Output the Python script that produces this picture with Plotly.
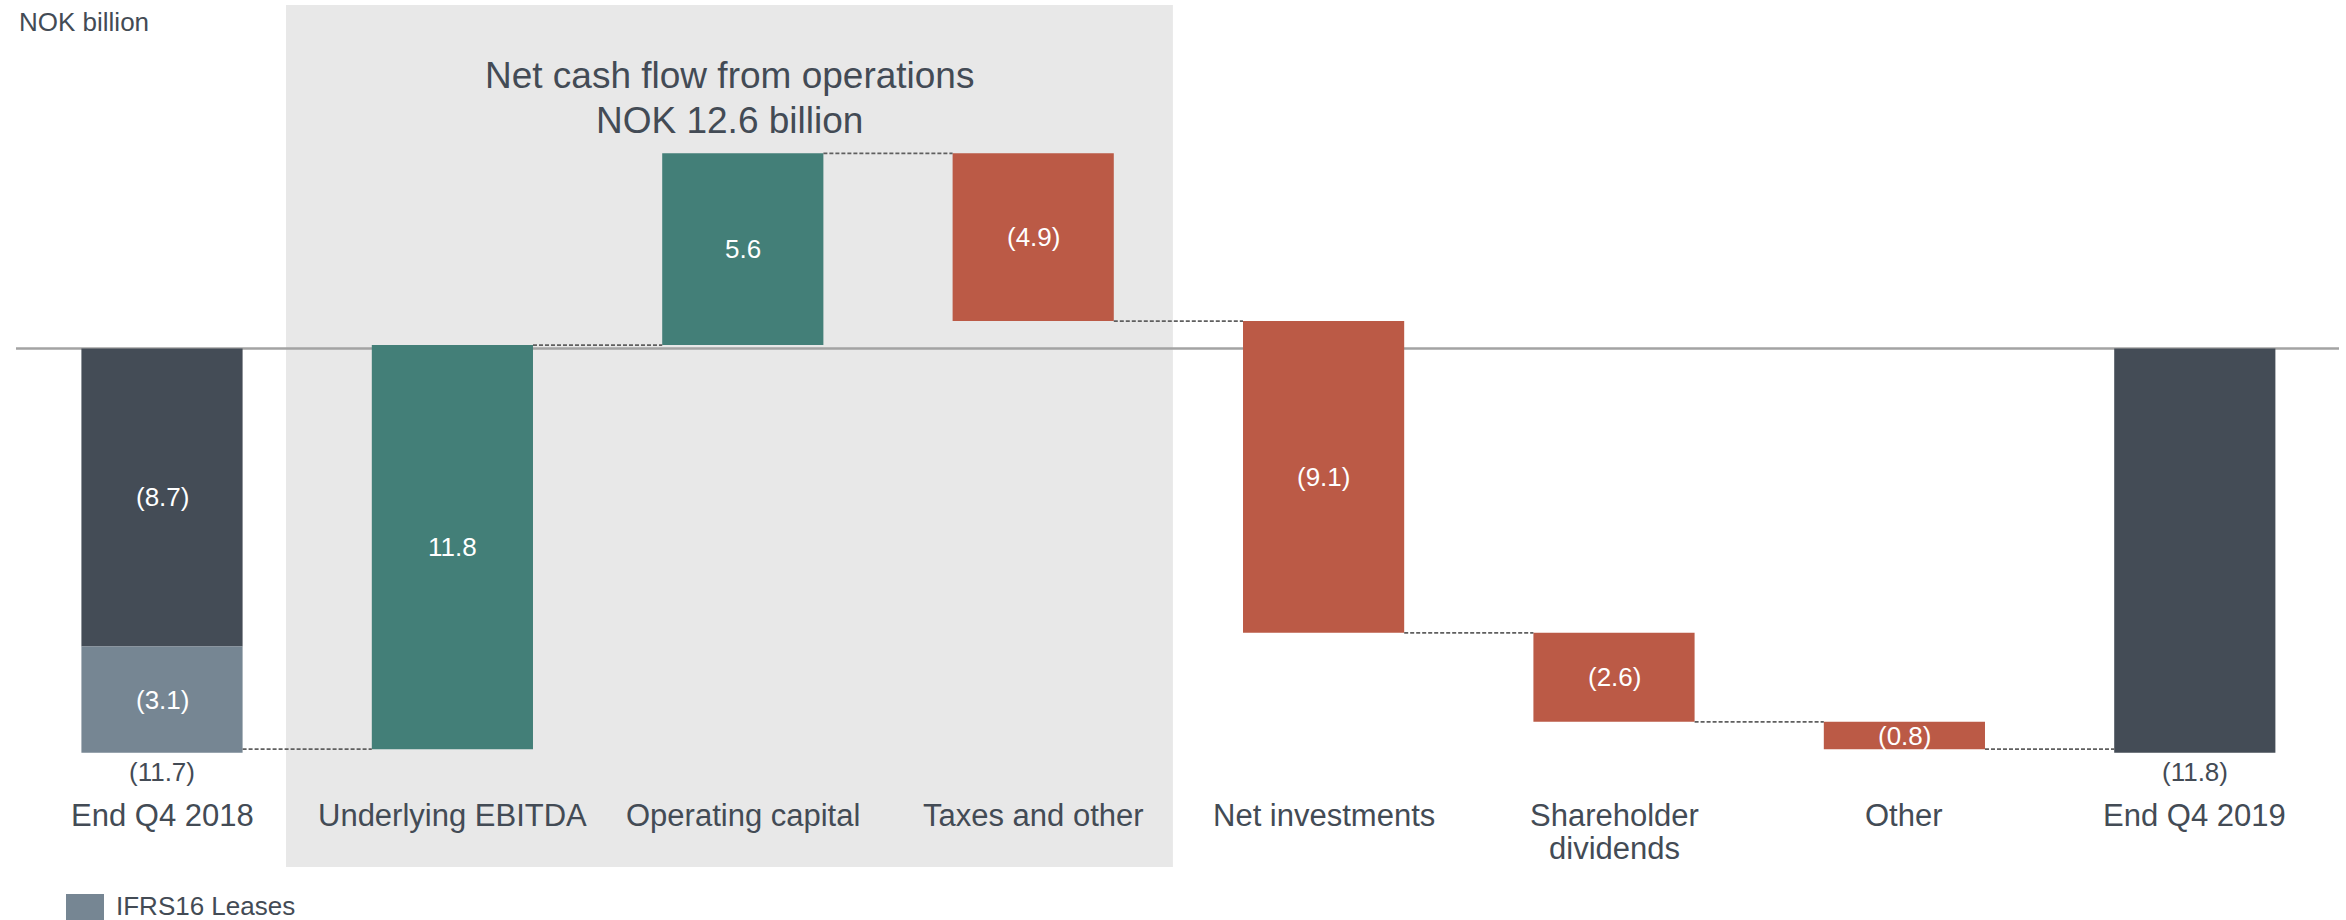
import plotly.graph_objects as go

# Cash flow bridge, NOK billion
categories = ["End Q4 2018", "Underlying EBITDA", "Operating capital", "Taxes and other",
              "Net investments", "Shareholder dividends", "Other", "End Q4 2019"]
category_lines = [["End Q4 2018"], ["Underlying EBITDA"], ["Operating capital"], ["Taxes and other"],
                  ["Net investments"], ["Shareholder", "dividends"], ["Other"], ["End Q4 2019"]]

start_total = -11.7          # net debt, end Q4 2018
start_ex_leases = -8.7       # of which before IFRS16
start_leases = -3.1          # IFRS16 leases
flow_values = [11.8, 5.6, -4.9, -9.1, -2.6, -0.8]
end_total = -11.8            # net debt, end Q4 2019

FONT = "Liberation Sans, Arial, sans-serif"
TEXT = "#434b55"
DARK = "#444c56"
LEASE = "#768693"
GREEN = "#437f78"
RED = "#bb5a46"
SHADE = "#e8e8e8"

W, H = 2346, 920
BAR_W = 0.555


def fmt(v):
    return f"({abs(v):.1f})" if v < 0 else f"{v:.1f}"


def py(px):
    return 1 - px / H


def pxx(px):
    return px / W


fig = go.Figure()

# opening balance split into leases / other
fig.add_trace(go.Bar(x=[0], y=[start_ex_leases], base=[0], width=BAR_W,
                     marker=dict(color=DARK, line=dict(width=0)), hoverinfo="skip"))
fig.add_trace(go.Bar(x=[0], y=[start_leases], base=[start_ex_leases], width=BAR_W,
                     marker=dict(color=LEASE, line=dict(width=0)), hoverinfo="skip"))

# floating flow bars
bases, levels = [], [start_total]
running = start_total
for v in flow_values:
    bases.append(running)
    running = round(running + v, 2)
    levels.append(running)
flow_x = list(range(1, 1 + len(flow_values)))
fig.add_trace(go.Bar(x=flow_x, y=flow_values, base=bases, width=BAR_W,
                     marker=dict(color=[GREEN if v > 0 else RED for v in flow_values],
                                 line=dict(width=0)),
                     hoverinfo="skip"))

# closing balance
fig.add_trace(go.Bar(x=[7], y=[end_total], base=[0], width=BAR_W,
                     marker=dict(color=DARK, line=dict(width=0)), hoverinfo="skip"))

shapes = []
# operations panel
shapes.append(dict(type="rect", xref="x", yref="paper", x0=0.427, x1=3.481,
                   y0=py(867), y1=py(5), fillcolor=SHADE, line=dict(width=0), layer="below"))
# zero line
shapes.append(dict(type="line", xref="paper", yref="y", x0=pxx(16), x1=pxx(2339), y0=0, y1=0,
                   line=dict(color="#a3a3a3", width=2.5), layer="below"))
# dashed connectors between consecutive bars
for i, lvl in enumerate(levels):
    shapes.append(dict(type="line", xref="x", yref="y",
                       x0=i + BAR_W / 2, x1=i + 1 - BAR_W / 2, y0=lvl, y1=lvl,
                       line=dict(color="#5f5f5f", width=1.8, dash="4px,2px")))
# legend swatch
shapes.append(dict(type="rect", xref="paper", yref="paper", x0=pxx(66), x1=pxx(104),
                   y0=py(930), y1=py(894), fillcolor=LEASE, line=dict(width=0)))

ann = []
# value labels inside the bars
inside = [(0, start_ex_leases / 2, start_ex_leases), (0, start_ex_leases + start_leases / 2, start_leases)]
for i, (b, v) in enumerate(zip(bases, flow_values), start=1):
    inside.append((i, b + v / 2, v))
for x, y, v in inside:
    ann.append(dict(x=x, y=y, xref="x", yref="y", text=fmt(v), showarrow=False,
                    font=dict(family=FONT, size=26, color="white")))
# totals under the balance bars
for x, v in [(0, start_total), (7, end_total)]:
    ann.append(dict(x=x, y=py(772), xref="x", yref="paper", text=fmt(v), showarrow=False,
                    yanchor="middle", font=dict(family=FONT, size=26, color=TEXT)))
# category labels
for i, lines in enumerate(category_lines):
    for j, line in enumerate(lines):
        ann.append(dict(x=i, y=py(815 + 33 * j), xref="x", yref="paper", text=line,
                        showarrow=False, yanchor="middle",
                        font=dict(family=FONT, size=31, color=TEXT)))
# panel title
for text, ypx in [("Net cash flow from operations", 76), ("NOK 12.6 billion", 121)]:
    ann.append(dict(x=(0.427 + 3.481) / 2, y=py(ypx), xref="x", yref="paper", text=text,
                    showarrow=False, yanchor="middle",
                    font=dict(family=FONT, size=37, color=TEXT)))
# unit label
ann.append(dict(x=pxx(17), y=py(22), xref="paper", yref="paper", text="NOK billion",
                showarrow=False, xanchor="left", yanchor="middle",
                font=dict(family=FONT, size=26, color=TEXT)))
# legend text
ann.append(dict(x=pxx(114), y=py(906), xref="paper", yref="paper", text="IFRS16 Leases",
                showarrow=False, xanchor="left", yanchor="middle",
                font=dict(family=FONT, size=26, color=TEXT)))

PX_PER_CAT = 290.4
X0 = -162 / PX_PER_CAT
PX_PER_UNIT = 34.25
ZERO_PX = 348.5

fig.update_layout(
    width=W, height=H,
    margin=dict(l=0, r=0, t=0, b=0),
    paper_bgcolor="white", plot_bgcolor="white",
    barmode="overlay", showlegend=False,
    shapes=shapes, annotations=ann,
    xaxis=dict(range=[X0, X0 + W / PX_PER_CAT], visible=False, fixedrange=True),
    yaxis=dict(range=[-(H - ZERO_PX) / PX_PER_UNIT, ZERO_PX / PX_PER_UNIT],
               visible=False, fixedrange=True),
)

fig.write_html("out.html", config={"displayModeBar": False})
